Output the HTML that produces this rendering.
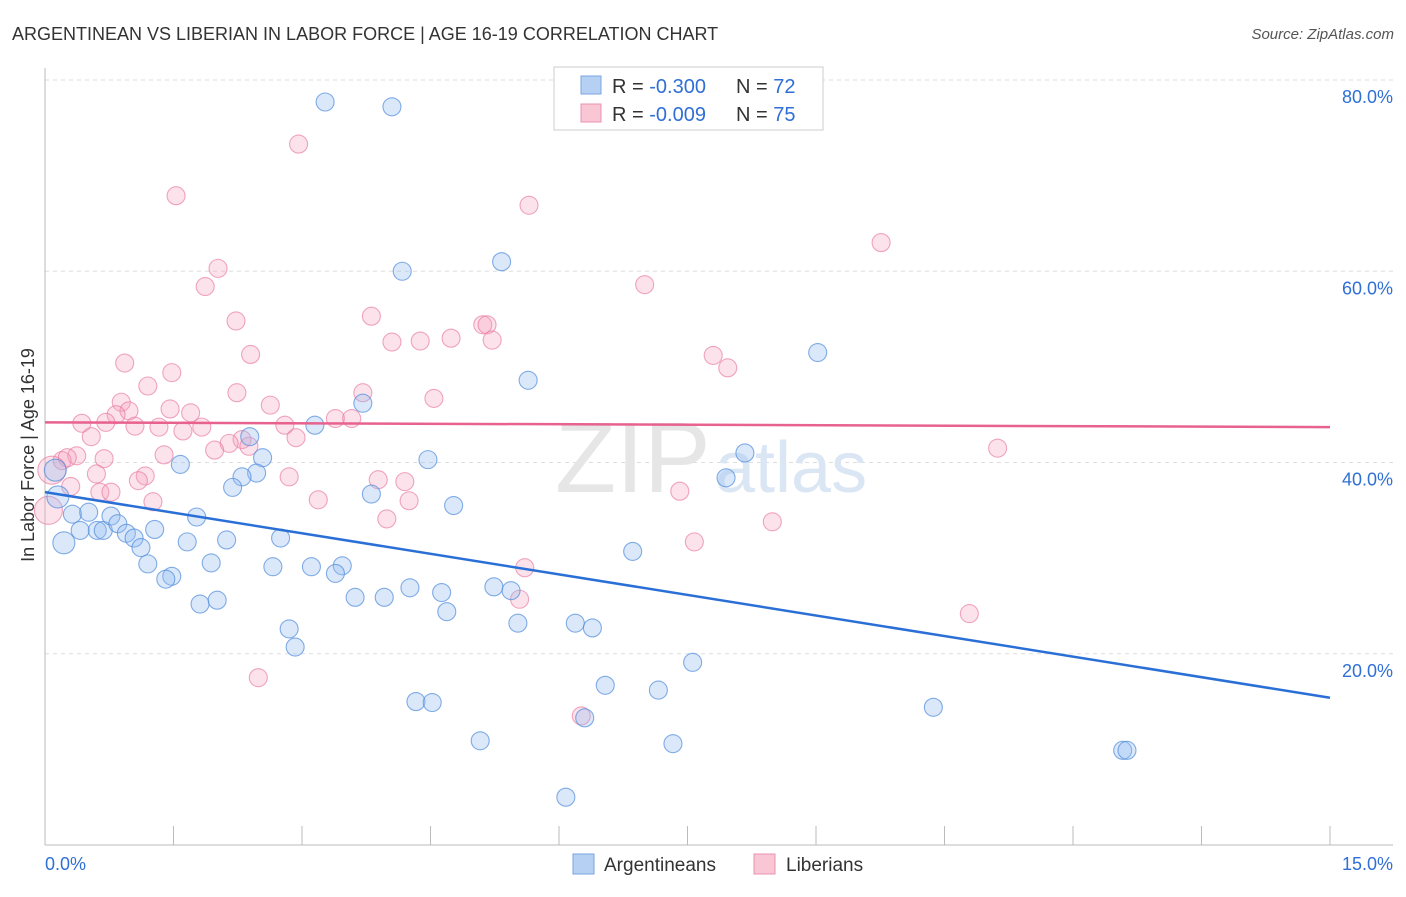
<!DOCTYPE html>
<html><head><meta charset="utf-8"><style>
body{margin:0;background:#fff;font-family:"Liberation Sans",sans-serif}
svg text{font-family:"Liberation Sans",sans-serif}
</style></head><body>
<svg width="1406" height="892">
<text x="12" y="40" font-size="18" fill="#333">ARGENTINEAN VS LIBERIAN IN LABOR FORCE | AGE 16-19 CORRELATION CHART</text>
<text x="1394" y="39" font-size="15" fill="#555" text-anchor="end" font-style="italic">Source: ZipAtlas.com</text>
<g id="grid"></g>
<text x="555" y="492" font-size="100" fill="#e6e6e6" font-family="Liberation Serif">ZIP</text>
<text x="715" y="492" font-size="72" fill="#dbe6f4">atlas</text>
<text transform="translate(34,455) rotate(-90)" font-size="18" fill="#333" text-anchor="middle">In Labor Force | Age 16-19</text>
<g id="pts"></g>
<g id="lines"></g>
<g>
<rect x="554" y="67" width="269" height="63" fill="#fff" stroke="#ccc"/>
<rect x="581" y="76" width="20" height="18" fill="#b6d0f4" stroke="#7aa6e0"/>
<rect x="581" y="104" width="20" height="18" fill="#f9c6d5" stroke="#ec93b0"/>
<text x="612" y="93" font-size="20" fill="#333">R = <tspan fill="#2f6fd6">-0.300</tspan></text>
<text x="736" y="93" font-size="20" fill="#333">N = <tspan fill="#2f6fd6">72</tspan></text>
<text x="612" y="121" font-size="20" fill="#333">R = <tspan fill="#2f6fd6">-0.009</tspan></text>
<text x="736" y="121" font-size="20" fill="#333">N = <tspan fill="#2f6fd6">75</tspan></text>
</g>
<g>
<rect x="573" y="854" width="21" height="20" fill="#b6d0f4" stroke="#7aa6e0"/>
<text x="604" y="871" font-size="19" fill="#333">Argentineans</text>
<rect x="754" y="854" width="21" height="20" fill="#f9c6d5" stroke="#ec93b0"/>
<text x="786" y="871" font-size="19" fill="#333">Liberians</text>
</g>
</svg>
<script>
const blueX=[3.27,4.05,4.17,5.33,9.02,5.64,3.71,3.15,2.39,1.58,2.54,2.47,2.30,2.19,4.47,8.17,7.95,3.81,4.77,0.12,0.15,0.32,0.51,0.61,0.68,0.41,0.77,0.85,0.95,1.04,1.12,1.28,1.77,1.66,2.12,2.75,1.20,1.48,1.41,1.94,2.66,3.11,3.47,3.39,6.86,0.22,1.81,2.01,3.62,3.96,4.26,4.63,5.24,5.44,4.69,5.52,6.19,6.39,2.85,2.92,7.56,6.54,7.16,4.33,4.52,6.30,10.37,5.08,7.33,12.58,12.63,6.08];
const blueY=[77.7,77.2,60.0,61.0,51.5,48.6,46.2,43.9,42.7,39.8,40.5,38.9,38.5,37.4,40.3,41.0,38.4,36.7,35.5,39.2,36.4,34.6,34.8,32.9,32.9,32.9,34.4,33.6,32.6,32.1,31.1,33.0,34.3,31.7,31.9,32.1,29.4,28.1,27.8,29.5,29.1,29.1,29.2,28.4,30.7,31.6,25.2,25.6,25.9,25.9,26.9,26.4,27.0,26.6,24.4,23.2,23.2,22.7,22.6,20.7,19.1,16.7,16.2,15.0,14.9,13.3,14.4,10.9,10.6,9.9,9.9,5.0];
const pinkX=[2.96,1.53,5.65,9.76,2.02,1.87,7.00,2.23,3.81,5.11,5.16,4.05,4.38,4.74,5.22,2.40,7.80,0.93,7.97,1.48,1.20,2.24,3.71,4.54,0.89,2.63,0.98,0.83,1.46,1.70,3.39,3.58,0.43,0.71,1.05,1.33,1.61,1.83,2.80,0.54,2.93,2.30,2.15,1.98,2.38,0.37,0.20,0.26,0.69,11.12,1.39,0.60,1.17,1.09,0.30,0.64,0.77,2.85,3.89,4.20,4.25,3.19,1.26,3.99,7.41,8.49,7.58,0.04,5.60,5.54,10.79,2.49,6.26,0.08];
const pinkY=[73.3,67.9,66.9,63.0,60.3,58.4,58.6,54.8,55.3,54.4,54.4,52.6,52.7,53.0,52.8,51.3,51.2,50.4,49.9,49.4,48.0,47.3,47.3,46.7,46.3,46.0,45.4,45.0,45.6,45.2,44.6,44.6,44.1,44.2,43.8,43.7,43.3,43.7,43.9,42.7,42.6,42.4,42.0,41.3,41.7,40.7,40.2,40.5,40.4,41.5,40.8,38.8,38.6,38.1,37.5,36.9,36.9,38.5,38.2,38.0,36.0,36.1,35.9,34.1,37.0,33.8,31.7,35.0,29.0,25.7,24.2,17.5,13.5,39.2];
const blueTrend=[36.9,15.4];
const pinkTrend=[44.2,43.7];
const yTicks=[20,40,60,80];
const xTickLabels=["0.0%","15.0%"];
const NS="http://www.w3.org/2000/svg";
const X0=45,X1=1330,Y0=845,PPY=9.5625;
const sx=v=>X0+v*(X1-X0)/15;
const sy=v=>Y0-v*PPY;
function mk(tag,attrs,parent){const e=document.createElementNS(NS,tag);for(const k in attrs)e.setAttribute(k,attrs[k]);parent.appendChild(e);return e;}
const grid=document.getElementById('grid');
yTicks.forEach(t=>{
  const l=mk('line',{x1:45,x2:1393,y1:sy(t),y2:sy(t),stroke:'#ddd','stroke-dasharray':'4,4'},grid);
  
  
  const tx=mk('text',{x:1393,y:sy(t)+23,'font-size':18,fill:'#2f6fd6','text-anchor':'end'},grid);
  tx.textContent=t.toFixed(1)+'%';
  
  
});
const ax=mk('line',{x1:45,x2:1393,y1:845,y2:845,stroke:'#bbb'},grid);


const ay=mk('line',{x1:45,x2:45,y1:68,y2:845,stroke:'#bbb'},grid);


for(let i=0;i<=10;i++){
  const x=sx(i*1.5);
  const t=mk('line',{x1:x,x2:x,y1:826,y2:845,stroke:'#bbb'},grid);
  
  
}
const xl0=mk('text',{x:45,y:870,'font-size':18,fill:'#2f6fd6'},grid);
xl0.textContent=xTickLabels[0];


const xl1=mk('text',{x:1393,y:870,'font-size':18,fill:'#2f6fd6','text-anchor':'end'},grid);
xl1.textContent=xTickLabels[1];


const pts=document.getElementById('pts');
pinkX.forEach((v,i)=>{
  const c=mk('circle',{cx:sx(v),cy:sy(pinkY[i]),r:v<0.1?14:9,fill:'rgba(244,160,188,0.3)',stroke:'rgba(232,120,160,0.65)','stroke-width':1.1},pts);
  
  
});
blueX.forEach((v,i)=>{
  const c=mk('circle',{cx:sx(v),cy:sy(blueY[i]),r:v<0.25?11:9,fill:'rgba(150,190,240,0.35)',stroke:'rgba(80,140,220,0.7)','stroke-width':1.1},pts);
  
  
});
const lines=document.getElementById('lines');
const bl=mk('line',{x1:sx(0),x2:sx(15),y1:sy(blueTrend[0]),y2:sy(blueTrend[1]),stroke:'#2a6fd6','stroke-width':2.5},lines);


const pl=mk('line',{x1:sx(0),x2:sx(15),y1:sy(pinkTrend[0]),y2:sy(pinkTrend[1]),stroke:'#e8628e','stroke-width':2.5},lines);


</script>
</body></html>
